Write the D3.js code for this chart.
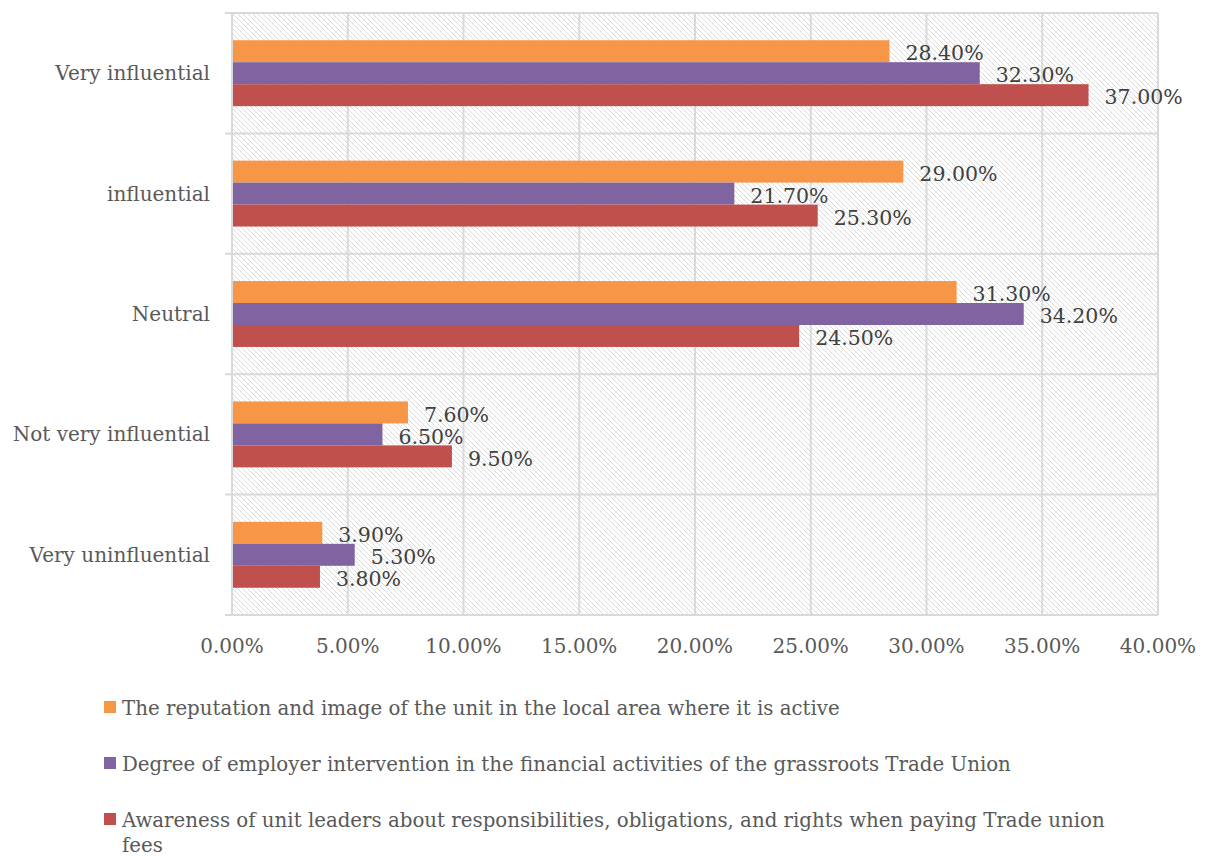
<!DOCTYPE html>
<html>
<head>
<meta charset="utf-8">
<script src="https://cdn.jsdelivr.net/npm/d3@7"></script>
<style>
  body { margin: 0; background: #fff; }
  text { font-family: "DejaVu Serif", serif; fill: #595959; }
</style>
</head>
<body>
<div id="chart"></div>
<script>
// Data
const categories = ["Very influential", "influential", "Neutral", "Not very influential", "Very uninfluential"];
const seriesNames = [
  "The reputation and image of the unit in the local area where it is active",
  "Degree of employer intervention in the financial activities of the grassroots Trade Union",
  "Awareness of unit leaders about responsibilities, obligations, and rights when paying Trade union fees"
];
const reputation = [28.4, 29.0, 31.3, 7.6, 3.9];
const intervention = [32.3, 21.7, 34.2, 6.5, 5.3];
const awareness = [37.0, 25.3, 24.5, 9.5, 3.8];
const xTicks = [0, 5, 10, 15, 20, 25, 30, 35, 40];
const colors = ["#F79646", "#8064A2", "#C0504D"];

const series = [reputation, intervention, awareness];

let W = 1206, H = 856;
let margin = {top: 13, left: 232, right: 48, bottom: 241};
let width = W - margin.left - margin.right,
    height = H - margin.top - margin.bottom;

let svg = d3.select("#chart").append("svg")
  .attr("width", W).attr("height", H);

// hatch pattern for plot background
let defs = svg.append("defs");
let pat = defs.append("pattern")
  .attr("id", "hatch")
  .attr("patternUnits", "userSpaceOnUse")
  .attr("width", 5).attr("height", 5);
pat.append("rect").attr("width", 5).attr("height", 5).attr("fill", "#fff");
pat.append("path")
  .attr("d", "M-1,-1 L6,6 M-1,4 L1,6 M4,-1 L6,1")
  .attr("stroke", "#dcdcdc").attr("stroke-width", 1);

let g = svg.append("g").attr("transform", "translate(" + margin.left + "," + margin.top + ")");

let x = d3.scaleLinear().domain([0, 40]).range([0, width]);
let y = d3.scaleBand().domain(categories).range([0, height]);
let inner = d3.scaleBand().domain(d3.range(series.length)).range([0, y.bandwidth()]).paddingOuter(1.24);

g.append("rect").attr("width", width).attr("height", height).attr("fill", "url(#hatch)");

// gridlines
g.selectAll(".vgrid").data(xTicks).enter().append("line")
  .attr("x1", d => x(d)).attr("x2", d => x(d))
  .attr("y1", 0).attr("y2", height)
  .attr("stroke", "#d9d9d9").attr("stroke-width", 2);

let bounds = categories.map(c => y(c)).concat([height]);
g.selectAll(".hgrid").data(bounds).enter().append("line")
  .attr("x1", -7).attr("x2", width)
  .attr("y1", d => d).attr("y2", d => d)
  .attr("stroke", "#d9d9d9").attr("stroke-width", 2);

// bars
series.forEach((vals, si) => {
  g.selectAll(".bar" + si).data(vals).enter().append("rect")
    .attr("x", x(0) + 1)
    .attr("y", (d, i) => y(categories[i]) + inner(si))
    .attr("width", d => x(d) - x(0) - 1)
    .attr("height", inner.bandwidth())
    .attr("fill", colors[si]);
  g.selectAll(".lab" + si).data(vals).enter().append("text")
    .attr("x", d => x(d) + 16)
    .attr("y", (d, i) => y(categories[i]) + inner(si) + inner.bandwidth() / 2)
    .attr("dy", "0.45em")
    .style("font-size", "20.5px")
    .style("fill", "#404040")
    .text(d => d.toFixed(2) + "%");
});

// category labels
g.selectAll(".cat").data(categories).enter().append("text")
  .attr("x", -22)
  .attr("y", d => y(d) + y.bandwidth() / 2)
  .attr("dy", "0.35em")
  .attr("text-anchor", "end")
  .style("font-size", "20px")
  .text(d => d);

// x axis labels
g.selectAll(".xt").data(xTicks).enter().append("text")
  .attr("x", d => x(d))
  .attr("y", height + 38)
  .attr("text-anchor", "middle")
  .style("font-size", "20px")
  .text(d => d.toFixed(2) + "%");

// legend
let legY = [708, 764, 820];
let maxW = 1000;
series.forEach((s, si) => {
  let lg = svg.append("g").attr("transform", "translate(104," + legY[si] + ")");
  lg.append("rect").attr("x", 0).attr("y", -7).attr("width", 12).attr("height", 12).attr("fill", colors[si]);
  let t = lg.append("text").attr("x", 18).attr("y", 0).attr("dy", "0.35em").style("font-size", "19.8px");
  let words = seriesNames[si].split(" "), line = [];
  let ts = t.append("tspan").attr("x", 18);
  words.forEach(w => {
    line.push(w);
    ts.text(line.join(" "));
    if (ts.node().getComputedTextLength() > maxW && line.length > 1) {
      line.pop();
      ts.text(line.join(" "));
      line = [w];
      ts = t.append("tspan").attr("x", 18).attr("dy", "1.27em").text(w);
    }
  });
});
</script>
</body>
</html>
